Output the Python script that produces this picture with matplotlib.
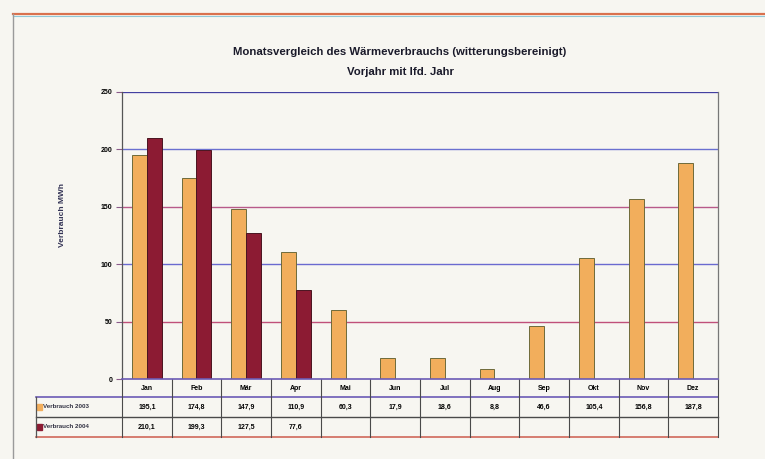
import numpy as np
import matplotlib.pyplot as plt
from matplotlib.lines import Line2D
from matplotlib.patches import Rectangle
from matplotlib.transforms import blended_transform_factory

plt.rcParams['font.family'] = ['Liberation Sans', 'DejaVu Sans']

months = ['Jan', 'Feb', 'Mär', 'Apr', 'Mai', 'Jun', 'Jul', 'Aug', 'Sep', 'Okt', 'Nov', 'Dez']
verbrauch_2003 = [195.1, 174.8, 147.9, 110.9, 60.3, 17.9, 18.6, 8.8, 46.6, 105.4, 156.8, 187.8]
verbrauch_2004 = [210.1, 199.3, 127.5, 77.6]
series_names = ['Verbrauch 2003', 'Verbrauch 2004']
yticks = [0, 50, 100, 150, 200, 250]

col_2003 = '#f2ae5c'
col_2004 = '#8c1b33'
bg = '#f7f6f1'
grid_cols = ['#7866c0', '#c0507a', '#6a6ad0', '#b85a8a', '#6a70d0', '#7060c0']

W, H = 765, 459
fig = plt.figure(figsize=(W / 100, H / 100), dpi=100, facecolor=bg)

# outer frame of the chart object
fig.add_artist(Line2D([13 / W, 1], [1 - 14 / H, 1 - 14 / H], color='#d9714e', lw=1.6))
fig.add_artist(Line2D([13 / W, 1], [1 - 16 / H, 1 - 16 / H], color='#8fc8d8', lw=0.8))
fig.add_artist(Line2D([13 / W, 13 / W], [0, 1 - 14 / H], color='#9a9a9a', lw=1.0))

left, right, top, bottom = 122, 718, 92, 379
ax = fig.add_axes([left / W, 1 - bottom / H, (right - left) / W, (bottom - top) / H])
ax.set_facecolor(bg)

x = np.arange(len(months))
bw = 0.3
ax.bar(x - bw / 2, verbrauch_2003, bw, color=col_2003, edgecolor='#6e6a3a', lw=0.7, zorder=3)
x4 = np.arange(len(verbrauch_2004))
ax.bar(x4 + bw / 2, verbrauch_2004, bw, color=col_2004, edgecolor='#4a1420', lw=0.7, zorder=3)

ax.set_xlim(-0.5, len(months) - 0.5)
ax.set_ylim(0, 250)
ax.set_yticks(yticks)
ax.set_yticklabels([str(t) for t in yticks], fontsize=5, fontweight='bold')
for t, c in zip(yticks[1:], grid_cols[1:]):
    ax.axhline(t, color=c, lw=1.0, zorder=1)
ax.tick_params(axis='y', length=4, width=0.8, color='#8a5a8a', pad=3)
ax.set_xticks([])
for s in ['top', 'bottom']:
    ax.spines[s].set_visible(False)
ax.spines['left'].set_color('#555555')
ax.spines['left'].set_linewidth(0.9)
ax.spines['right'].set_color('#777777')
ax.spines['right'].set_linewidth(0.9)
ax.axhline(250, color='#3a3a9a', lw=1.2, zorder=1)
ax.axhline(0, color='#6b5bb5', lw=1.2, zorder=4, clip_on=False)

ax.set_ylabel('Verbrauch MWh', fontsize=6, fontweight='bold', color='#333355')
ax.yaxis.set_label_coords(-0.094, 0.57)

fig.text(0.523, 1 - 52 / H, 'Monatsvergleich des Wärmeverbrauchs (witterungsbereinigt)',
         ha='center', va='center', fontsize=8.2, fontweight='bold', color='#1a1a2a')
fig.text(0.523, 1 - 72 / H, 'Vorjahr mit lfd. Jahr',
         ha='center', va='center', fontsize=8.2, fontweight='bold', color='#1a1a2a')

# data table below the plot
tr = blended_transform_factory(ax.transData, ax.transAxes)
ph = bottom - top
r0, r1, r2 = -18 / ph, -38 / ph, -58 / ph
xl = -0.5 - (left - 36) * len(months) / (right - left)
xr = len(months) - 0.5

ax.add_line(Line2D([xl, xr], [r0, r0], transform=tr, color='#6b5bb5', lw=1.2, clip_on=False))
ax.add_line(Line2D([xl, xr], [r1, r1], transform=tr, color='#4a4a4a', lw=1.0, clip_on=False))
ax.add_line(Line2D([xl, xr], [r2, r2], transform=tr, color='#d0685a', lw=1.2, clip_on=False))
ax.add_line(Line2D([xl, xl], [r0, r2], transform=tr, color='#555555', lw=0.9, clip_on=False))
for b in np.arange(len(months) + 1) - 0.5:
    ax.add_line(Line2D([b, b], [0, r2], transform=tr, color='#4a4a4a', lw=0.8, clip_on=False))

for i, m in enumerate(months):
    ax.text(i, r0 / 2, m, transform=tr, ha='center', va='center', fontsize=5, fontweight='bold')
    ax.text(i, (r0 + r1) / 2, f'{verbrauch_2003[i]:.1f}'.replace('.', ','), transform=tr,
            ha='center', va='center', fontsize=5, fontweight='bold')
for i, v in enumerate(verbrauch_2004):
    ax.text(i, (r1 + r2) / 2, f'{v:.1f}'.replace('.', ','), transform=tr,
            ha='center', va='center', fontsize=5, fontweight='bold')

for name, col, yc in zip(series_names, [col_2003, col_2004], [(r0 + r1) / 2, (r1 + r2) / 2]):
    ax.add_patch(Rectangle((xl + 0.03, yc - 0.009), 0.09, 0.018, transform=tr, color=col,
                           clip_on=False))
    ax.text(xl + 0.15, yc, name, transform=tr, ha='left', va='center', fontsize=4.5,
            fontweight='bold', color='#333344')

fig.savefig('out.png', dpi=100, facecolor=bg)
